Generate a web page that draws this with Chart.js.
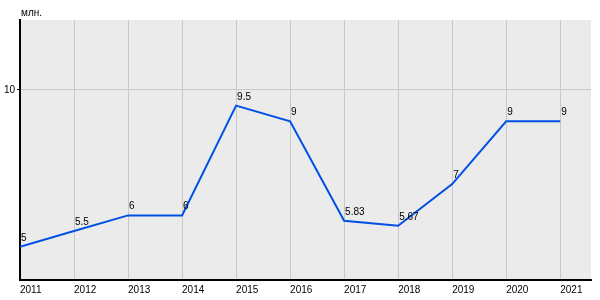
<!DOCTYPE html>
<html>
<head>
<meta charset="utf-8">
<script src="https://cdn.jsdelivr.net/npm/chart.js@4"></script>
<style>
  html, body { margin: 0; padding: 0; background: #fff; }
  #wrap { width: 600px; height: 300px; position: relative; }
</style>
</head>
<body>
<div id="wrap"><canvas id="chart"></canvas></div>
<script>
const years = [2011, 2012, 2013, 2014, 2015, 2016, 2017, 2018, 2019, 2020, 2021];
const values = [5, 5.5, 6, 6, 9.5, 9, 5.83, 5.67, 7, 9, 9];
const yTicks = [10];
const unitLabel = 'млн.';

const FONT = '"Liberation Sans", Arial, sans-serif';

// grey plot background
const plotBg = {
    id: 'plotBg',
    beforeDraw(chart) {
        const a = chart.chartArea;
        const ctx = chart.ctx;
        ctx.save();
        ctx.fillStyle = '#ebebeb';
        ctx.fillRect(a.left, a.top, a.right - a.left, a.bottom - a.top);
        ctx.restore();
    }
};

// value labels above points + unit caption
const valueLabels = {
    id: 'valueLabels',
    afterDatasetsDraw(chart) {
        const ctx = chart.ctx;
        const meta = chart.getDatasetMeta(0);
        ctx.save();
        ctx.font = '10px ' + FONT;
        ctx.fillStyle = '#000';
        ctx.textAlign = 'left';
        ctx.textBaseline = 'alphabetic';
        meta.data.forEach((pt, i) => {
            ctx.fillText(String(values[i]), pt.x + 1, pt.y - 6);
        });
        ctx.font = '10px ' + FONT;
        ctx.fillText(unitLabel, chart.chartArea.left + 1, 16);
        ctx.restore();
    }
};

const ctx = document.getElementById('chart').getContext('2d');
new Chart(ctx, {
    type: 'line',
    data: {
        datasets: [{
            data: years.map((y, i) => ({ x: y, y: values[i] })),
            borderColor: 'rgb(0,80,230)',
            borderWidth: 2,
            pointRadius: 0,
            fill: false,
            tension: 0
        }]
    },
    options: {
        responsive: true,
        maintainAspectRatio: false,
        animation: false,
        layout: { padding: { top: 20, right: 9, left: 0, bottom: 0 } },
        plugins: {
            legend: { display: false },
            tooltip: { enabled: false }
        },
        scales: {
            x: {
                type: 'linear',
                min: 2011,
                max: 2021.57,
                afterBuildTicks(axis) { axis.ticks = years.map(v => ({ value: v })); },
                afterFit(axis) { axis.height = 20; },
                grid: { color: '#c8c8c8', lineWidth: 1, drawTicks: false },
                border: { color: '#000', width: 2 },
                ticks: {
                    align: 'start',
                    padding: 4,
                    color: '#000',
                    font: { family: FONT, size: 10 },
                    callback: v => String(v)
                }
            },
            y: {
                min: 3.94,
                max: 12.23,
                afterBuildTicks(axis) { axis.ticks = yTicks.map(v => ({ value: v })); },
                afterFit(axis) { axis.width = 20; },
                grid: { color: '#c8c8c8', lineWidth: 1, tickLength: 3, tickColor: '#000' },
                border: { color: '#000', width: 2 },
                ticks: {
                    padding: 2,
                    color: '#000',
                    font: { family: FONT, size: 10 },
                    callback: v => String(v)
                }
            }
        }
    },
    plugins: [plotBg, valueLabels]
});
</script>
</body>
</html>
